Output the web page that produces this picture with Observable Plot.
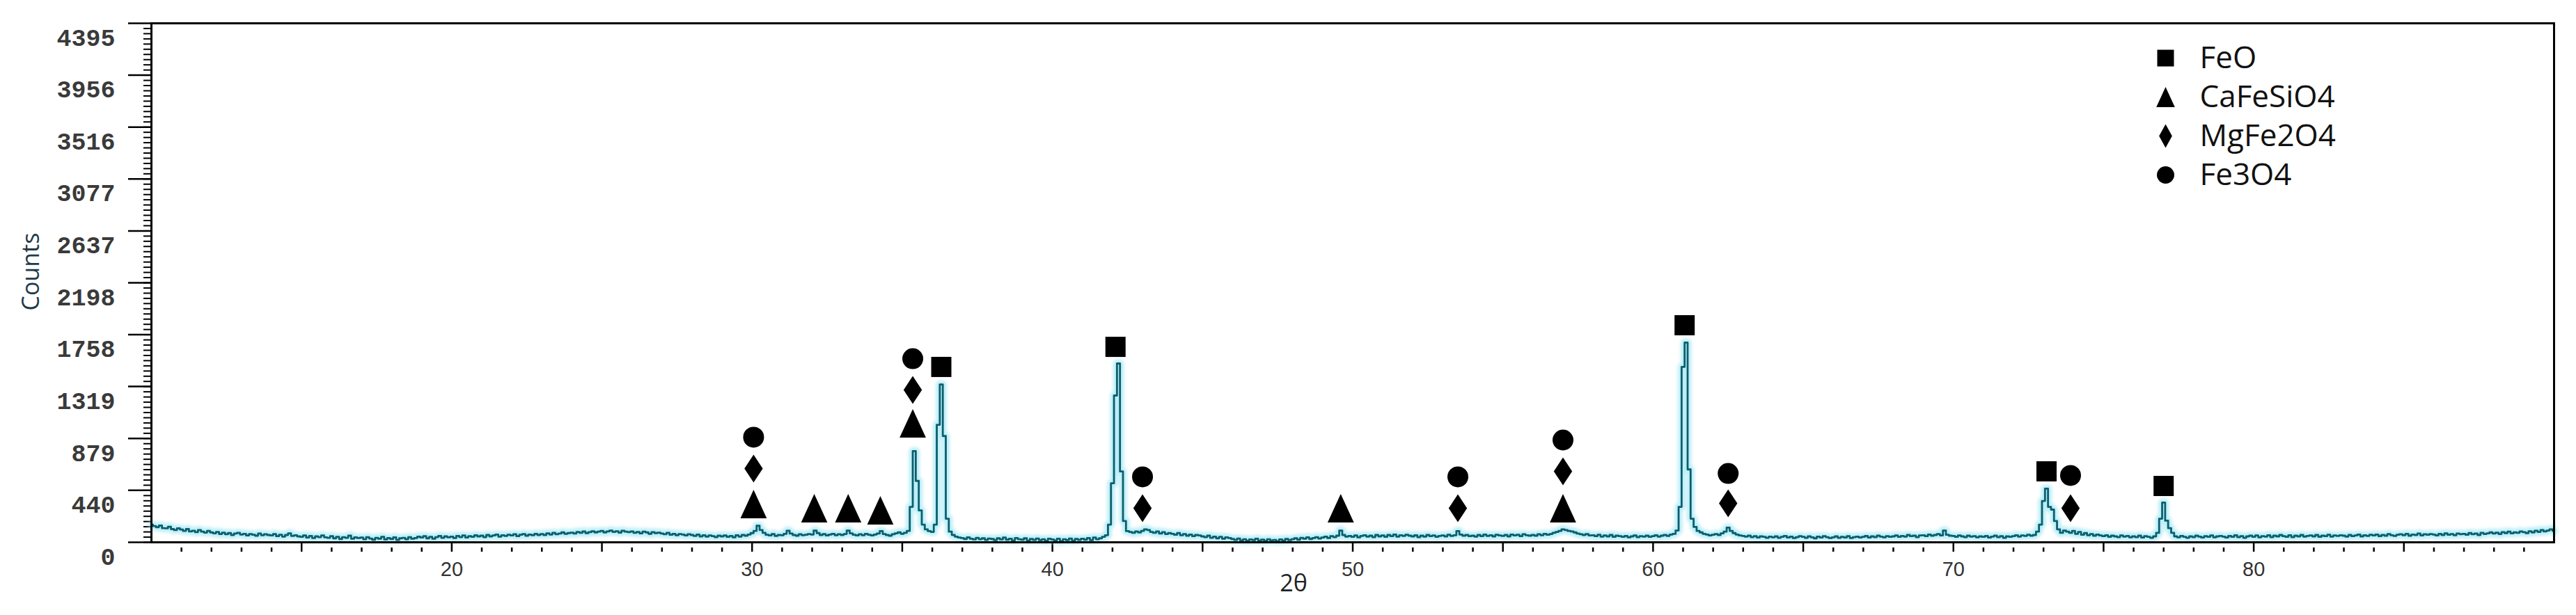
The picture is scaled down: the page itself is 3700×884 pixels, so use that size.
<!DOCTYPE html>
<html>
<head>
<meta charset="utf-8">
<script src="https://cdn.jsdelivr.net/npm/d3@7"></script>
<script src="https://cdn.jsdelivr.net/npm/@observablehq/plot@0.6"></script>
<style>
  html, body { margin: 0; padding: 0; background: #fff; }
  #chart { width: 3700px; height: 884px; overflow: hidden; }
</style>
</head>
<body>
<div id="chart"></div>
<script>
// ---------------- DATA ----------------
// XRD scan: 2θ from 10° to 90° in 0.1° steps, counts
const twoThetaStart = 10;
const twoThetaStep = 0.1;
const counts = [
  150,138,128,142,120,118,132,112,104,118, // 10
  108,96,112,92,98,86,104,90,82,96,        // 11
  84,76,88,70,82,68,78,62,74,80,           // 12
  66,72,58,70,64,56,74,60,68,62,           // 13
  58,70,52,64,48,62,76,54,60,50,           // 14
  46,58,40,54,36,50,44,58,42,38,           // 15
  52,34,46,28,44,38,56,30,42,36,           // 16
  40,26,44,32,22,38,30,46,24,36,           // 17
  28,42,20,34,38,26,44,30,36,48,           // 18
  40,52,34,46,30,44,54,38,50,42,           // 19
  48,36,54,44,58,40,52,46,60,50,           // 20
  56,44,62,50,58,66,48,60,54,64,           // 21
  58,68,52,64,70,56,66,60,72,62,           // 22
  70,62,76,66,80,68,74,84,72,78,           // 23
  82,74,88,80,92,78,86,94,84,90,           // 24
  96,84,92,100,88,94,82,98,90,86,          // 25
  92,80,88,76,90,84,72,86,78,82,           // 26
  74,68,80,64,72,60,70,66,58,68,           // 27
  62,54,66,50,60,48,58,52,44,56,           // 28
  50,58,46,54,42,60,48,62,56,66,           // 29
  78,96,140,104,80,64,58,70,54,62,         // 30
  60,72,98,74,62,56,68,60,64,70,           // 31
  66,100,78,62,70,58,66,72,60,68,          // 32
  62,70,100,76,64,58,68,60,72,64,          // 33
  58,66,74,95,70,62,56,68,76,84,           // 34
  72,80,96,300,772,520,270,150,110,95,     // 35
  88,150,995,1337,900,200,90,62,48,40,     // 36
  36,28,42,30,24,38,26,34,20,32,           // 37
  28,18,34,24,40,22,30,16,36,26,           // 38
  22,34,14,28,20,32,18,26,12,30,           // 39
  24,16,30,10,26,18,32,14,28,20,           // 40
  30,22,36,18,40,26,34,46,60,150,          // 41
  500,1243,1514,600,180,95,88,80,92,84,    // 42
  96,110,104,88,80,92,74,86,70,78,         // 43
  72,64,78,60,70,56,66,52,62,58,           // 44
  50,44,56,38,48,34,46,30,42,36,           // 45
  28,20,32,16,26,12,24,18,30,14,           // 46
  22,12,26,16,20,10,24,14,28,18,           // 47
  26,34,22,38,30,42,28,36,44,32,           // 48
  40,48,36,52,44,56,100,62,48,54,          // 49
  46,58,42,54,60,48,56,44,62,50,           // 50
  58,46,62,52,66,48,60,54,64,56,           // 51
  50,60,44,56,48,62,52,58,46,54,           // 52
  58,50,64,54,60,95,66,56,62,52,           // 53
  56,48,62,52,66,54,60,50,64,58,           // 54
  54,62,50,66,58,64,52,68,60,56,           // 55
  62,56,68,60,72,64,70,80,88,96,           // 56
  110,104,96,92,84,74,68,62,70,58,         // 57
  60,52,64,48,58,50,62,46,56,52,           // 58
  46,54,42,50,58,44,52,48,56,46,           // 59
  52,60,48,56,62,54,66,72,100,300,         // 60
  1485,1691,617,200,130,96,84,72,66,58,    // 61
  64,70,62,76,90,124,96,78,66,58,          // 62
  54,48,56,44,52,40,50,46,38,48,           // 63
  42,50,38,46,54,40,48,36,44,52,           // 64
  46,38,50,42,34,48,40,52,44,36,           // 65
  42,50,38,46,40,52,36,44,48,40,           // 66
  46,54,40,50,44,56,48,42,52,46,           // 67
  50,58,46,54,48,62,52,56,44,58,           // 68
  60,52,66,56,62,70,58,100,64,56,          // 69
  54,46,58,50,44,56,48,52,42,50,           // 70
  46,54,40,48,56,44,52,38,50,46,           // 71
  52,60,48,58,54,64,56,62,90,150,          // 72
  350,454,300,277,180,110,80,100,90,80,    // 73
  96,72,88,64,78,60,70,56,66,58,           // 74
  52,60,46,56,50,44,58,48,54,42,           // 75
  50,44,56,40,52,46,38,50,80,200,          // 76
  336,183,120,80,50,42,54,46,38,50,        // 77
  44,56,48,40,52,46,58,42,50,54,           // 78
  48,40,54,46,60,44,52,38,50,56,           // 79
  46,58,42,52,48,60,44,56,50,62,           // 80
  52,46,60,44,56,50,62,48,54,58,           // 81
  50,62,46,56,52,64,48,58,54,60,           // 82
  56,48,62,52,58,66,50,60,54,64,           // 83
  58,66,52,62,56,70,60,54,64,68,           // 84
  60,72,56,66,62,74,58,68,64,70,           // 85
  66,58,72,62,76,64,70,60,74,68,           // 86
  72,64,78,68,74,62,80,70,76,84,           // 87
  74,82,70,86,78,90,76,84,80,92,           // 88
  86,78,94,84,98,88,104,92,100,110,        // 89
  96                                       // 90
];

// Phase markers (2θ, counts) placed above the peaks
const phaseNames = ["FeO", "CaFeSiO4", "MgFe2O4", "Fe3O4"];
const feoTheta = [36.3, 42.1, 61.05, 73.1, 77.0];
const feoCounts = [1485, 1655, 1838, 601, 477];
const caFeSiO4Theta = [30.05, 32.07, 33.2, 34.27, 35.35, 49.6, 57.0];
const caFeSiO4Counts = [324, 289, 289, 271, 1007, 289, 289];
const mgFe2O4Theta = [30.05, 35.35, 43.0, 53.5, 57.0, 62.5, 73.9];
const mgFe2O4Counts = [624, 1290, 289, 289, 601, 330, 289];
const fe3O4Theta = [30.05, 35.35, 43.0, 53.5, 57.0, 62.5, 73.9];
const fe3O4Counts = [890, 1555, 554, 554, 866, 583, 566];

// Axis ticks
const yTickValues = [0, 440, 879, 1319, 1758, 2198, 2637, 3077, 3516, 3956, 4395];
const yTickLabels = ["0", "440", "879", "1319", "1758", "2198", "2637", "3077", "3516", "3956", "4395"];
const xTickLabels = [20, 30, 40, 50, 60, 70, 80];
const xMajorTicks = [15, 20, 25, 30, 35, 40, 45, 50, 55, 60, 65, 70, 75, 80, 85];
const xDomain = [10, 90];
const yDomain = [0, 4395];

// ---------------- BUILD ----------------
const scan = counts.map((c, i) => ({theta: twoThetaStart + i * twoThetaStep, counts: c}));
const xMinorTicks = d3.range(11, 90).filter(d => d % 5 !== 0);
const yMinorTicks = d3.range(0, 100).map(i => i * yDomain[1] / 100);

// bbox-centred custom symbols, r = half height
function shape(kind, wr) {
  return {
    draw(ctx, size) {
      const r = Math.sqrt(size / Math.PI);
      const w = r * wr;
      if (kind === "square") { ctx.rect(-r, -r, 2 * r, 2 * r); }
      else if (kind === "triangle") { ctx.moveTo(0, -r); ctx.lineTo(w, r); ctx.lineTo(-w, r); ctx.closePath(); }
      else if (kind === "diamond") { ctx.moveTo(0, -r); ctx.lineTo(w, 0); ctx.lineTo(0, r); ctx.lineTo(-w, 0); ctx.closePath(); }
      else { ctx.moveTo(r, 0); ctx.arc(0, 0, r, 0, 2 * Math.PI); }
    }
  };
}
const symSquare = shape("square", 1);
const symTriangle = shape("triangle", 0.92);
const symDiamond = shape("diamond", 0.66);
const symDiamondLegend = shape("diamond", 0.55);
const symCircle = shape("circle", 1);

const phaseSets = [
  {theta: feoTheta, counts: feoCounts, symbol: symSquare, r: 14.5},
  {theta: caFeSiO4Theta, counts: caFeSiO4Counts, symbol: symTriangle, r: 20.5},
  {theta: mgFe2O4Theta, counts: mgFe2O4Counts, symbol: symDiamond, r: 20},
  {theta: fe3O4Theta, counts: fe3O4Counts, symbol: symCircle, r: 15}
];
const legendSyms = [
  {symbol: symSquare, r: 12},
  {symbol: symTriangle, r: 14.5},
  {symbol: symDiamondLegend, r: 17},
  {symbol: symCircle, r: 12.5}
];

const markerMarks = phaseSets.map(p =>
  Plot.dot(p.theta.map((t, i) => ({t, c: p.counts[i]})), {
    x: "t", y: "c", symbol: p.symbol, r: p.r, fill: "#000", stroke: "none"
  })
);

const legendMarks = [];
phaseNames.forEach((name, i) => {
  const dy = 50 + i * 56;
  legendMarks.push(Plot.dot([name], {frameAnchor: "top-left", dx: 2893, dy, symbol: legendSyms[i].symbol, r: legendSyms[i].r, fill: "#000", stroke: "none"}));
  legendMarks.push(Plot.text([name], {text: d => d, frameAnchor: "top-left", dx: 2942, dy, textAnchor: "start", lineAnchor: "middle", fontSize: 44, fontFamily: "Open Sans", fill: "#111"}));
});

const chart = Plot.plot({
  width: 3700,
  height: 884,
  marginLeft: 217,
  marginRight: 32,
  marginTop: 33,
  marginBottom: 105,
  style: {background: "#fff"},
  x: {domain: xDomain},
  y: {domain: yDomain},
  marks: [
    // axes
    Plot.axisY(yMinorTicks, {tickSize: 11, strokeWidth: 2, stroke: "#000", fill: "none", label: null}),
    Plot.axisY(yTickValues, {tickSize: 33, strokeWidth: 2.5, stroke: "#000", fill: "none", label: null}),
    Plot.axisY(yTickValues, {tickSize: 0, tickPadding: 52, dy: 21, tickFormat: d => yTickLabels[yTickValues.indexOf(d)],
      fontSize: 35, fontWeight: "bold", fontFamily: "Liberation Mono", fill: "#3a3a3a", label: null}),
    Plot.axisX(xMajorTicks, {tickSize: 14, strokeWidth: 2.5, stroke: "#000", fill: "none", label: null}),
    Plot.axisX(xMinorTicks, {tickSize: 6, dy: 8, strokeWidth: 2.5, stroke: "#000", fill: "none", label: null}),
    Plot.axisX(xTickLabels, {tickSize: 0, tickPadding: 28, fontSize: 29, fontFamily: "Liberation Sans", fill: "#333", label: null}),
    // scan line with light glow
    Plot.line(scan, {x: "theta", y: "counts", curve: "step", stroke: "#8fe3f2", strokeWidth: 11, strokeOpacity: 0.6, imageFilter: "blur(2px)"}),
    Plot.line(scan, {x: "theta", y: "counts", curve: "step", stroke: "#0a5f6e", strokeWidth: 2.8}),
    Plot.frame({stroke: "#000", strokeWidth: 3}),
    ...markerMarks,
    ...legendMarks,
    // axis titles
    Plot.text(["Counts"], {text: d => d, frameAnchor: "left", dx: -172, dy: 40, rotate: -90, fontSize: 34, fontFamily: "Open Sans", fill: "#203a48"}),
    Plot.text(["2θ"], {text: d => d, frameAnchor: "bottom", dx: -85, dy: 70, fontSize: 34, fontFamily: "Open Sans", fill: "#222"})
  ]
});
document.getElementById("chart").appendChild(chart);
</script>
</body>
</html>
